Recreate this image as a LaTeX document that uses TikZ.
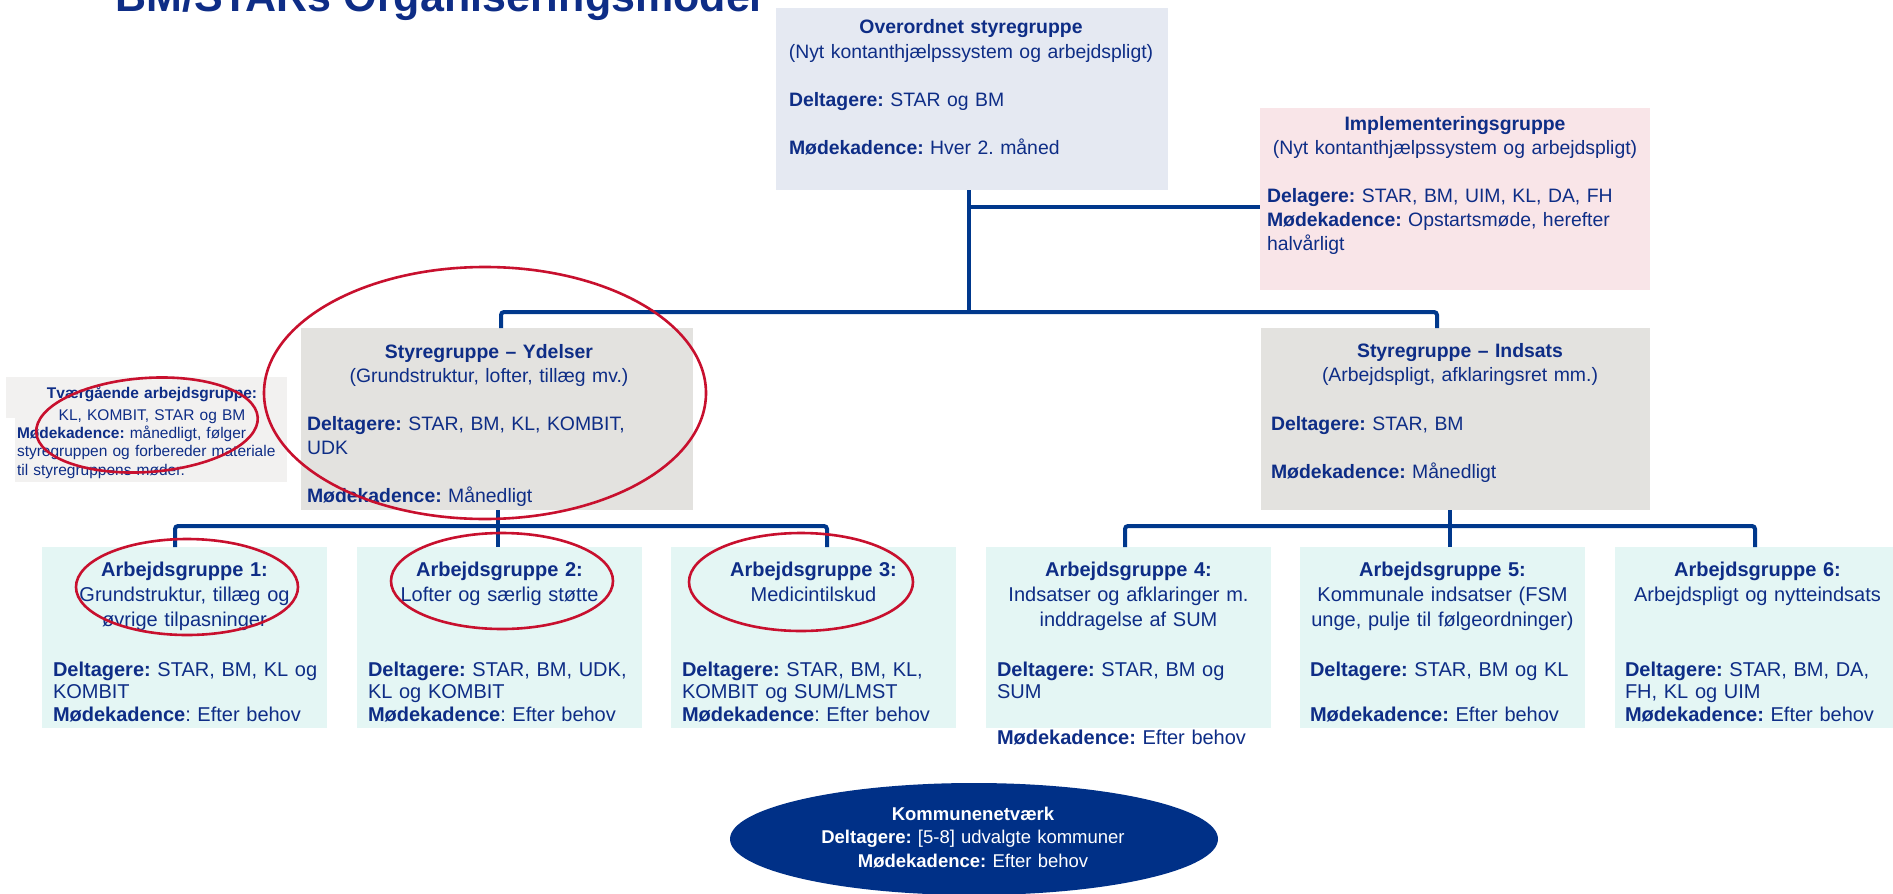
\documentclass[tikz,border=0pt]{standalone}
\usepackage{fontspec}
\setmainfont{Liberation Sans}
\usetikzlibrary{shapes.geometric,calc}
\frenchspacing
\definecolor{navy}{RGB}{14,45,134}
\definecolor{linec}{RGB}{0,56,140}
\definecolor{knfill}{RGB}{0,48,135}
\definecolor{redc}{RGB}{200,16,46}
\definecolor{fTop}{RGB}{229,233,242}
\definecolor{fImpl}{RGB}{249,229,232}
\definecolor{fGray}{RGB}{227,226,223}
\definecolor{fTv}{RGB}{242,241,240}
\definecolor{fAG}{RGB}{228,246,244}
\begin{document}
\begin{tikzpicture}[x=1pt,y=-1pt,
  boxnode/.style={anchor=north west, inner sep=0pt, outer sep=0pt, draw=none},
  ttl/.style={anchor=base, inner sep=0pt, outer sep=0pt, text=navy, align=center, font=\fontsize{19.4}{24.5}\selectfont},
  bdy/.style={anchor=base west, inner sep=0pt, outer sep=0pt, text=navy, align=left, font=\fontsize{19.4}{24}\selectfont},
  agbox/.style={boxnode, fill=fAG, minimum width=285pt, minimum height=181pt},
  agT/.style={ttl, text width=285pt, font=\fontsize{20}{25}\selectfont},
  agB/.style={bdy, text width=278pt, font=\fontsize{20}{22.8}\selectfont},
  conn/.style={draw=linec, line width=4pt, rounded corners=3pt},
  ring/.style={draw=redc, line width=2.6pt},
]
\useasboundingbox (0,0) rectangle (1893,894);
\clip (0,0) rectangle (1893,894);
\fill[white] (0,0) rectangle (1893,894);

% title (cut off at the top)
\node[anchor=base west, inner sep=0pt, text=navy, font=\fontsize{43}{50}\selectfont\bfseries] (title) at (115,12) {BM/STARs Organiseringsmodel};

% top box
\node[boxnode, fill=fTop, minimum width=392pt, minimum height=182pt] (ov) at (776,8) {};
\node[ttl, text width=392pt] (ovT) at (971,34) {\textbf{Overordnet styregruppe}\\(Nyt kontanthjælpssystem og arbejdspligt)};
\node[bdy, text width=372pt] (ovB) at (789,106) {\textbf{Deltagere:} STAR og BM\\[24pt]\textbf{Mødekadence:} Hver 2. måned};

% implementation group
\node[boxnode, fill=fImpl, minimum width=390pt, minimum height=182pt] (impl) at (1260,108) {};
\node[ttl, text width=390pt] (implT) at (1455,130) {\textbf{Implementeringsgruppe}\\(Nyt kontanthjælpssystem og arbejdspligt)};
\node[bdy, text width=378pt] (implB) at (1267,202) {\textbf{Delagere:} STAR, BM, UIM, KL, DA, FH\\\textbf{Mødekadence:} Opstartsmøde, herefter\\halvårligt};

% Styregruppe - Ydelser
\node[boxnode, fill=fGray, minimum width=392pt, minimum height=182pt] (yd) at (301,328) {};
\node[ttl, text width=392pt] (ydT) at (489,358) {\textbf{Styregruppe – Ydelser}\\(Grundstruktur, lofter, tillæg mv.)};
\node[bdy, text width=380pt] (ydB) at (307,430) {\textbf{Deltagere:} STAR, BM, KL, KOMBIT,\\UDK\\[24pt]\textbf{Mødekadence:} Månedligt};

% Styregruppe - Indsats
\node[boxnode, fill=fGray, minimum width=389pt, minimum height=182pt] (ind) at (1261,328) {};
\node[ttl, text width=389pt] (indT) at (1460,357) {\textbf{Styregruppe – Indsats}\\(Arbejdspligt, afklaringsret mm.)};
\node[bdy, text width=375pt] (indB) at (1271,430) {\textbf{Deltagere:} STAR, BM\\[24pt]\textbf{Mødekadence:} Månedligt};

% Tvaergaaende arbejdsgruppe
\node[boxnode, fill=fTv, minimum width=281pt, minimum height=41pt] (tv) at (6,377) {};
\node[boxnode, fill=fTv, minimum width=272pt, minimum height=65pt] (tv2) at (15,417) {};
\node[ttl, text width=281pt, font=\fontsize{15.5}{22}\selectfont] (tvT) at (152,398) {\textbf{Tværgående arbejdsgruppe:}\\KL, KOMBIT, STAR og BM};
\node[bdy, text width=270pt, font=\fontsize{15.5}{18.5}\selectfont] (tvB) at (17,438) {\textbf{Mødekadence:} månedligt, følger\\styregruppen og forbereder materiale\\til styregruppens møder.};

% working groups
\node[agbox] (ag1) at (42,547) {};
\node[agT] (ag1T) at (184.5,576) {\textbf{Arbejdsgruppe 1:}\\Grundstruktur, tillæg og\\øvrige tilpasninger};
\node[agB] (ag1B) at (53,676) {\textbf{Deltagere:} STAR, BM, KL og\\KOMBIT\\\textbf{Mødekadence}: Efter behov};

\node[agbox] (ag2) at (357,547) {};
\node[agT] (ag2T) at (499.5,576) {\textbf{Arbejdsgruppe 2:}\\Lofter og særlig støtte};
\node[agB] (ag2B) at (368,676) {\textbf{Deltagere:} STAR, BM, UDK,\\KL og KOMBIT\\\textbf{Mødekadence}: Efter behov};

\node[agbox] (ag3) at (671,547) {};
\node[agT] (ag3T) at (813.5,576) {\textbf{Arbejdsgruppe 3:}\\Medicintilskud};
\node[agB] (ag3B) at (682,676) {\textbf{Deltagere:} STAR, BM, KL,\\KOMBIT og SUM/LMST\\\textbf{Mødekadence}: Efter behov};

\node[agbox] (ag4) at (986,547) {};
\node[agT] (ag4T) at (1128.5,576) {\textbf{Arbejdsgruppe 4:}\\Indsatser og afklaringer m.\\inddragelse af SUM};
\node[agB] (ag4B) at (997,676) {\textbf{Deltagere:} STAR, BM og\\SUM\\[22.8pt]\textbf{Mødekadence:} Efter behov};

\node[agbox] (ag5) at (1300,547) {};
\node[agT] (ag5T) at (1442.5,576) {\textbf{Arbejdsgruppe 5:}\\Kommunale indsatser (FSM\\unge, pulje til følgeordninger)};
\node[agB] (ag5B) at (1310,676) {\textbf{Deltagere:} STAR, BM og KL\\[22.8pt]\textbf{Mødekadence:} Efter behov};

\node[agbox] (ag6) at (1615,547) {};
\node[agT] (ag6T) at (1757.5,576) {\textbf{Arbejdsgruppe 6:}\\Arbejdspligt og nytteindsats};
\node[agB] (ag6B) at (1625,676) {\textbf{Deltagere:} STAR, BM, DA,\\FH, KL og UIM\\\textbf{Mødekadence:} Efter behov};

% Kommunenetvaerk
\node[ellipse, fill=knfill, minimum width=488pt, minimum height=112pt, inner sep=0pt] (kn) at (974,839) {};
\node[ttl, text=white, text width=480pt, font=\fontsize{18.5}{23.5}\selectfont] (knT) at (973,820) {\textbf{Kommunenetværk}\\\textbf{Deltagere:} [5-8] udvalgte kommuner\\\textbf{Mødekadence:} Efter behov};

% connectors
\coordinate (jT) at (969,312);
\coordinate (jI) at (969,207);
\coordinate (hL) at (501,312);
\coordinate (hR) at (1437,312);
\draw[conn] (ov.south -| jT) -- (jT);
\draw[conn] (jI) -- (jI -| impl.west);
\draw[conn] (yd.north -| hL) -- (hL) -- (hR) -- (ind.north -| hR);

\coordinate (lL) at (175,526);
\coordinate (lM) at (498,526);
\coordinate (lR) at (827,526);
\draw[conn] (ag1.north -| lL) -- (lL) -- (lR) -- (ag3.north -| lR);
\draw[conn] (yd.south -| lM) -- (ag2.north -| lM);

\coordinate (rL) at (1125,526);
\coordinate (rM) at (1450,526);
\coordinate (rR) at (1755,526);
\draw[conn] (ag4.north -| rL) -- (rL) -- (rR) -- (ag6.north -| rR);
\draw[conn] (ind.south -| rM) -- (ag5.north -| rM);

% red rings
\draw[ring] (485,393) ellipse [x radius=221, y radius=126];
\draw[ring, rotate around={4:(147,425)}] (147,425) ellipse [x radius=111, y radius=47];
\draw[ring] (187,587) ellipse [x radius=111, y radius=48];
\draw[ring] (502,581) ellipse [x radius=111, y radius=48];
\draw[ring] (801,582) ellipse [x radius=112, y radius=49];
\end{tikzpicture}
\end{document}
